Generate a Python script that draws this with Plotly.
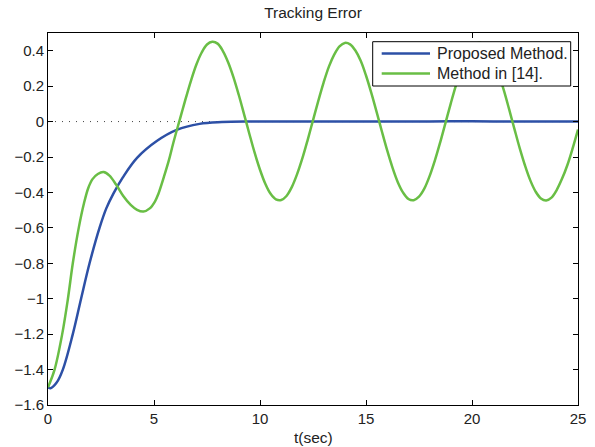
import plotly.graph_objects as go

# ---- data ----
t_prop = [0, 0.12, 0.4, 0.7, 1.17, 1.56, 1.96, 2.43, 2.75, 3.09, 3.53, 4.2, 5.13, 6.07,
          7.15, 8.2, 9.5, 12.0, 14.0, 16.0, 18.0, 20.0, 22.0, 24.0, 25.0]
e_prop = [-1.5, -1.505, -1.475, -1.4, -1.2, -1.0, -0.8, -0.6, -0.49, -0.405, -0.315,
          -0.205, -0.11, -0.047, -0.013, -0.003, 0.0, 0.0, 0.0, 0.0, 0.001, 0.002, 0.0,
          0.0, 0.0]

t_ref = [0, 0.31, 0.67, 0.94, 1.17, 1.45, 1.7, 1.9, 2.1, 2.35, 2.62, 2.9, 3.22, 3.55,
         3.9, 4.2, 4.5, 4.8, 5.05, 5.2, 5.47, 5.71, 5.91, 6.19, 6.35,
         6.5, 6.75, 7.0, 7.25, 7.5, 7.75, 8.0, 8.25, 8.5, 8.75, 9.0, 9.25, 9.5, 9.75,
         10.0, 10.25, 10.5, 10.75, 11.0, 11.25, 11.5, 11.75, 12.0, 12.25, 12.5, 12.75,
         13.0, 13.25, 13.5, 13.75, 14.0, 14.25, 14.5, 14.75, 15.0, 15.25, 15.5, 15.75,
         16.0, 16.25, 16.5, 16.75, 17.0, 17.25, 17.5, 17.75, 18.0, 18.25, 18.5, 18.75,
         19.0, 19.25, 19.5, 19.75, 20.0, 20.25, 20.5, 20.75, 21.0, 21.25, 21.5, 21.75,
         22.0, 22.25, 22.5, 22.75, 23.0, 23.25, 23.5, 23.75, 24.0, 24.25, 24.5, 24.75,
         25.0]
e_ref = [-1.5, -1.4, -1.2, -1.0, -0.8, -0.6, -0.46, -0.375, -0.325, -0.296, -0.285,
         -0.305, -0.357, -0.42, -0.47, -0.498, -0.508, -0.49, -0.45, -0.41, -0.311,
         -0.215, -0.121, 0.0, 0.068,
         0.132, 0.233, 0.322, 0.39, 0.435, 0.45, 0.44, 0.398, 0.334, 0.25, 0.15, 0.041,
         -0.07, -0.177, -0.272, -0.351, -0.408, -0.439, -0.443, -0.42, -0.37, -0.297,
         -0.207, -0.103, 0.007, 0.117, 0.22, 0.31, 0.378, 0.425, 0.444, 0.436, 0.401,
         0.343, 0.26, 0.162, 0.055, -0.056, -0.163, -0.26, -0.342, -0.401, -0.437,
         -0.444, -0.424, -0.379, -0.308, -0.219, -0.117, -0.007, 0.103, 0.207, 0.298,
         0.371, 0.42, 0.443, 0.439, 0.408, 0.351, 0.272, 0.177, 0.07, -0.041, -0.15,
         -0.248, -0.332, -0.395, -0.434, -0.445, -0.429, -0.385, -0.322, -0.245,
         -0.15, -0.045]

x_ticks = [0, 5, 10, 15, 20, 25]
y_ticks = [-1.6, -1.4, -1.2, -1.0, -0.8, -0.6, -0.4, -0.2, 0, 0.2, 0.4]
zero_x = [0, 25]
zero_y = [0, 0]
series_names = ["Proposed Method.", "Method in [14]."]
series_colors = ["#2D50A6", "#69BE45"]

FONT = "Liberation Sans, Arial, sans-serif"
TXT = "#222222"

# plot-area pixel geometry (for the hand-placed legend box)
L, R, T, B = 48, 578, 33, 405
def px(x):
    return (x - L) / (R - L)
def py(y):
    return 1 - (y - T) / (B - T)

fig = go.Figure()
fig.add_trace(go.Scatter(x=zero_x, y=zero_y, mode="lines", showlegend=False,
                         line=dict(color="#444444", width=1, dash="1px,6px"),
                         hoverinfo="skip"))
fig.add_trace(go.Scatter(x=t_prop, y=e_prop, mode="lines", name=series_names[0],
                         line=dict(color=series_colors[0], width=2.5, shape="spline",
                                   smoothing=1.0, simplify=False)))
fig.add_trace(go.Scatter(x=t_ref, y=e_ref, mode="lines", name=series_names[1],
                         line=dict(color=series_colors[1], width=2.5, shape="spline",
                                   smoothing=1.0, simplify=False)))

axis_common = dict(showline=True, linecolor="black", linewidth=1, mirror="ticks",
                   ticks="inside", ticklen=5, tickcolor="black", showgrid=False,
                   zeroline=False, automargin=False,
                   tickfont=dict(family=FONT, size=15, color=TXT))

# legend box drawn as shapes + text annotations (MATLAB-style compact legend)
shapes = [dict(type="rect", xref="paper", yref="paper", layer="above",
               x0=px(372.7), x1=px(570.7), y0=py(86), y1=py(41.7),
               fillcolor="white", line=dict(color="black", width=1))]
annotations = [dict(text="t(sec)", xref="paper", yref="paper", x=0.5,
                    y=-(438 - 405) / 372, xanchor="center", yanchor="middle",
                    showarrow=False, font=dict(family=FONT, size=15.5, color=TXT))]
for i, (nm, col) in enumerate(zip(series_names, series_colors)):
    yy = 53.5 + 20 * i
    shapes.append(dict(type="line", xref="paper", yref="paper", layer="above",
                       x0=px(381.7), x1=px(430), y0=py(yy), y1=py(yy),
                       line=dict(color=col, width=2.5)))
    annotations.append(dict(text=nm, xref="paper", yref="paper", x=px(434.5),
                            y=py(yy), xanchor="left", yanchor="middle",
                            showarrow=False,
                            font=dict(family=FONT, size=16, color=TXT)))

fig.update_layout(
    width=595, height=447,
    margin=dict(l=L, r=595 - R, t=T, b=447 - B),
    paper_bgcolor="white", plot_bgcolor="white",
    title=dict(text="Tracking Error", x=(L + R) / 2 / 595, xanchor="center",
               y=1 - 13 / 447, yanchor="middle",
               font=dict(family=FONT, size=15.5, color=TXT)),
    xaxis=dict(range=[0, 25], tickvals=x_ticks, ticktext=[str(v) for v in x_ticks],
               **axis_common),
    yaxis=dict(range=[-1.6, 0.5], tickvals=y_ticks,
               ticktext=[("\u2212" if v < 0 else "") + (f"{abs(v):g}") for v in y_ticks],
               **axis_common),
    shapes=shapes,
    annotations=annotations,
    showlegend=False,
)

fig.write_html("out.html")
